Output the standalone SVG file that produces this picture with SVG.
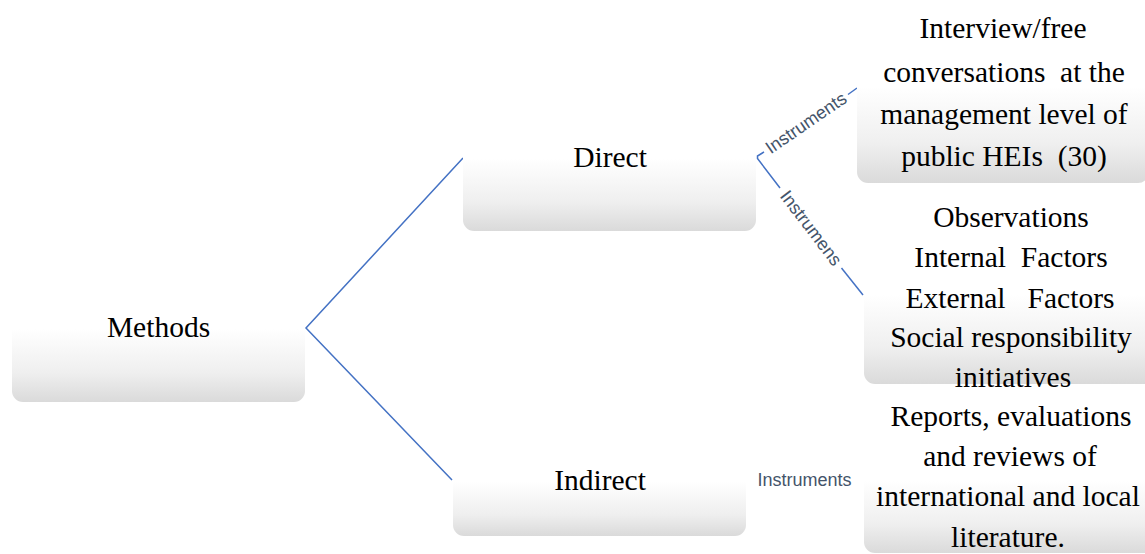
<svg xmlns="http://www.w3.org/2000/svg" width="1145" height="554" viewBox="0 0 1145 554">
<defs>
<linearGradient id="g" x1="0" y1="0" x2="0" y2="1">
<stop offset="0" stop-color="#ffffff"/>
<stop offset="0.5" stop-color="#ffffff"/>
<stop offset="0.8" stop-color="#efefef"/>
<stop offset="1" stop-color="#dadada"/>
</linearGradient>
</defs>
<style>
.box{fill:url(#g);}
.t{font-family:"Liberation Serif","Times New Roman",serif;font-size:29.5px;fill:#000;text-anchor:middle;}
.c{fill:none;stroke:#4472C4;stroke-width:1.5;}
.lbl{font-family:"Liberation Sans",Arial,sans-serif;font-size:18px;fill:#44546A;text-anchor:middle;dominant-baseline:central;}
</style>
<rect width="1145" height="554" fill="#ffffff"/>
<g id="connectors">
<polyline class="c" points="463,158 306,328 452,480"/>
<polyline class="c" points="764,152 757.5,156 757.5,158.5 780,188"/>
<line class="c" x1="848" y1="94.5" x2="857" y2="88"/>
<line class="c" x1="841.5" y1="268" x2="863" y2="295"/>
<text class="lbl" transform="translate(806,123) rotate(-34.5)">Instruments</text>
<text class="lbl" transform="translate(811,228) rotate(52.7)">Instrumens</text>
<text class="lbl" x="804.5" y="480">Instruments</text>
</g>
<g id="methods">
<rect class="box" x="12" y="255" width="293" height="147" rx="11"/>
<text class="t" x="158.5" y="337">Methods</text>
</g>
<g id="direct">
<rect class="box" x="463" y="86" width="293" height="145" rx="11"/>
<text class="t" x="610" y="167">Direct</text>
</g>
<g id="indirect">
<rect class="box" x="453" y="427" width="293" height="109" rx="11"/>
<text class="t" x="600" y="490">Indirect</text>
</g>
<g id="interview">
<rect class="box" x="857" y="-10" width="292" height="193" rx="11"/>
<text class="t" x="1003" y="38">Interview/free</text>
<text class="t" x="1004" y="82" xml:space="preserve">conversations  at the</text>
<text class="t" x="1004" y="124">management level of</text>
<text class="t" x="1004" y="166" xml:space="preserve">public HEIs  (30)</text>
</g>
<g id="observations">
<rect class="box" x="864" y="205" width="294" height="179" rx="11"/>
<text class="t" x="1011" y="227">Observations</text>
<text class="t" x="1011" y="267" xml:space="preserve">Internal  Factors</text>
<text class="t" x="1010" y="308" xml:space="preserve">External   Factors</text>
<text class="t" x="1011" y="347">Social responsibility</text>
<text class="t" x="1013" y="387">initiatives</text>
</g>
<g id="reports">
<rect class="box" x="864" y="408" width="292" height="145" rx="11"/>
<text class="t" x="1011" y="426">Reports, evaluations</text>
<text class="t" x="1010" y="466">and reviews of</text>
<text class="t" x="1008" y="506">international and local</text>
<text class="t" x="1008" y="547">literature.</text>
</g>
</svg>
